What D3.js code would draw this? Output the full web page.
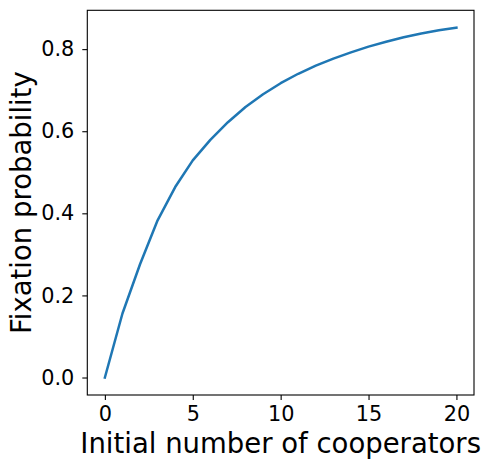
<!DOCTYPE html>
<html>
<head>
<meta charset="utf-8">
<script src="https://cdn.jsdelivr.net/npm/d3@7"></script>
<style>
  body { margin: 0; background: #fff; }
  svg { display: block; font-family: "DejaVu Sans", sans-serif; }
  .axis path, .axis line { stroke: #000; stroke-width: 1.1; }
  .axis text { fill: #000; font-family: "DejaVu Sans", sans-serif; font-size: 20.8px; }
</style>
</head>
<body>
<script>
// initial number of cooperators and fixation probability
var cooperators = [0,1,2,3,4,5,6,7,8,9,10,11,12,13,14,15,16,17,18,19,20];
var fixation = [0, 0.156, 0.276, 0.383, 0.464, 0.529, 0.579, 0.622, 0.659, 0.69,
                0.717, 0.74, 0.76, 0.777, 0.792, 0.806, 0.818, 0.829, 0.838, 0.846, 0.852];
var xTicks = [0, 5, 10, 15, 20];
var yTicks = [0, 0.2, 0.4, 0.6, 0.8];

var fig = { width: 484, height: 468 };
var box = { left: 87.3, right: 474, top: 10.3, bottom: 395 };

var svg = d3.select('body')
            .append('svg')
            .attr('width', fig.width)
            .attr('height', fig.height);

// matplotlib style 5% margins
var x = d3.scaleLinear().domain([-1, 21]).range([box.left, box.right]);
var yPad = (d3.max(fixation) - d3.min(fixation)) * 0.05;
var y = d3.scaleLinear()
          .domain([d3.min(fixation) - yPad, d3.max(fixation) + yPad])
          .range([box.bottom, box.top]);

svg.append('g')
   .attr('class', 'axis')
   .attr('transform', 'translate(0,' + box.bottom + ')')
   .call(d3.axisBottom(x).tickValues(xTicks).tickSize(5).tickPadding(6).tickSizeOuter(0))
   .call(function(g){ g.select('.domain').remove(); });

svg.append('g')
   .attr('class', 'axis')
   .attr('transform', 'translate(' + box.left + ',0)')
   .call(d3.axisLeft(y).tickValues(yTicks).tickFormat(d3.format('.1f')).tickSize(5).tickPadding(8).tickSizeOuter(0))
   .call(function(g){ g.select('.domain').remove(); });

var line = d3.line()
             .x(function(d, i){ return x(cooperators[i]); })
             .y(function(d){ return y(d); });

svg.append('path')
   .datum(fixation)
   .attr('d', line)
   .attr('fill', 'none')
   .attr('stroke', '#1f77b4')
   .attr('stroke-width', 2.5)
   .attr('stroke-linejoin', 'round')
   .attr('stroke-linecap', 'square');

// frame
svg.append('rect')
   .attr('x', box.left)
   .attr('y', box.top)
   .attr('width', box.right - box.left)
   .attr('height', box.bottom - box.top)
   .attr('fill', 'none')
   .attr('stroke', '#000')
   .attr('stroke-width', 1.1);

svg.append('text')
   .attr('x', (box.left + box.right) / 2)
   .attr('y', 453)
   .attr('text-anchor', 'middle')
   .style('font-size', '27.5px')
   .text('Initial number of cooperators');

svg.append('text')
   .attr('transform', 'translate(31,' + (box.top + box.bottom) / 2 + ') rotate(-90)')
   .attr('text-anchor', 'middle')
   .style('font-size', '27.5px')
   .text('Fixation probability');
</script>
</body>
</html>
